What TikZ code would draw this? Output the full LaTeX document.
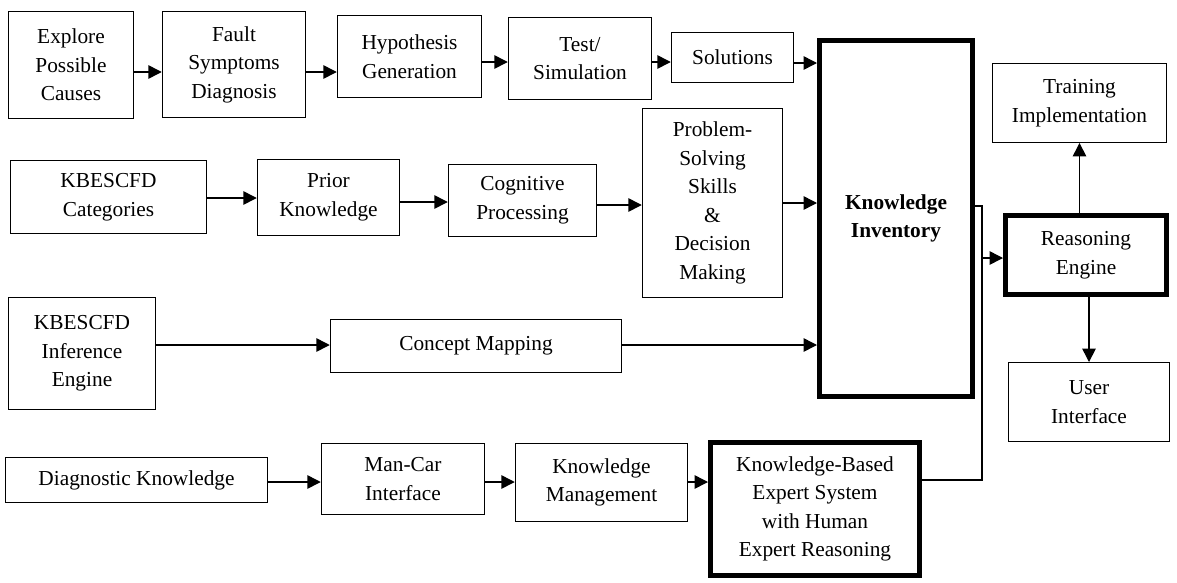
\documentclass[tikz,border=0pt]{standalone}
\usepackage{fontspec}
\setmainfont{Liberation Serif}
\usetikzlibrary{arrows.meta}
\begin{document}
\begin{tikzpicture}[x=0.75pt,y=-0.75pt,
  txt/.style={align=center, inner sep=0pt, font=\fontsize{16}{21.4}\selectfont},
  box/.style={txt, draw, line width=1.1pt},
  lightbox/.style={txt, draw, line width=0.7pt},
  heavybox/.style={txt, draw, line width=3.75pt},
  sz/.style 2 args={minimum width=#1*0.75pt, minimum height=#2*0.75pt},
  arr/.style={line width=1.1pt, -{Triangle[length=10pt,width=10pt]}},
  link/.style={line width=0.8pt}]
\useasboundingbox (0,0) rectangle (1177,582);

% top row
\node[box, sz={125}{107}] (explore) at (71,65) {Explore\\Possible\\Causes};
\node[box, sz={143}{106}] (fault) at (234,64.5) {Fault\\Symptoms\\Diagnosis};
\node[box, sz={144}{82}] (hypo) at (409.5,56.5) {Hypothesis\\Generation};
\node[box, sz={143}{82}] (test) at (580,58.5) {Test/\\Simulation};
\node[box, sz={122}{50}] (sol) at (732.5,57.5) {Solutions};

% central store
\node[heavybox, sz={153}{356}, font=\fontsize{16}{21.4}\selectfont\bfseries] (ki) at (896,218.5) {Knowledge\\Inventory};

% right column
\node[lightbox, sz={174}{79}] (train) at (1079.5,103) {Training\\Implementation};
\node[heavybox, sz={161}{79}] (reason) at (1086,255) {Reasoning\\Engine};
\node[lightbox, sz={161}{79}] (user) at (1089,402) {User\\Interface};

% second row
\node[box, sz={196}{73}] (cat) at (108.5,197) {KBESCFD\\Categories};
\node[box, sz={142}{76}] (prior) at (328.5,197.5) {Prior\\Knowledge};
\node[box, sz={148}{72}] (cog) at (522.5,200.5) {Cognitive\\Processing};
\node[box, sz={140}{189}] (ps) at (712.5,203) {Problem-\\Solving\\Skills\\\&\\Decision\\Making};

% third row
\node[box, sz={147}{112}] (inf) at (82,353.5) {KBESCFD\\Inference\\Engine};
\node[box, sz={291}{53}] (cm) at (476,346) {Concept Mapping};

% bottom row
\node[box, sz={262}{45}] (diag) at (136.5,480) {Diagnostic Knowledge};
\node[box, sz={163}{71}] (mc) at (403,479) {Man-Car\\Interface};
\node[box, sz={172}{78}] (km) at (601.5,482.5) {Knowledge\\Management};
\node[heavybox, sz={209}{133}] (kb) at (815,509) {Knowledge-Based\\Expert System\\with Human\\Expert Reasoning};

% connector levels
\coordinate (yA) at (0,72);
\coordinate (yB) at (0,62);
\coordinate (yC) at (0,63);
\coordinate (yD) at (0,198);
\coordinate (yE) at (0,202);
\coordinate (yF) at (0,205);
\coordinate (yG) at (0,203);
\coordinate (yH) at (0,345);
\coordinate (yJ) at (0,482);
\coordinate (yK) at (0,206);
\coordinate (yL) at (0,480);
\coordinate (bus) at (982,258);

% top row flow
\draw[arr] (explore.east |- yA) -- (fault.west |- yA);
\draw[arr] (fault.east |- yA) -- (hypo.west |- yA);
\draw[arr] (hypo.east |- yB) -- (test.west |- yB);
\draw[arr] (test.east |- yB) -- (sol.west |- yB);
\draw[arr] (sol.east |- yC) -- (ki.west |- yC);

% second row flow
\draw[arr] (cat.east |- yD) -- (prior.west |- yD);
\draw[arr] (prior.east |- yE) -- (cog.west |- yE);
\draw[arr] (cog.east |- yF) -- (ps.west |- yF);
\draw[arr] (ps.east |- yG) -- (ki.west |- yG);

% third row flow
\draw[arr] (inf.east |- yH) -- (cm.west |- yH);
\draw[arr] (cm.east |- yH) -- (ki.west |- yH);

% bottom row flow
\draw[arr] (diag.east |- yJ) -- (mc.west |- yJ);
\draw[arr] (mc.east |- yJ) -- (km.west |- yJ);
\draw[arr] (km.east |- yJ) -- (kb.west |- yJ);

% link between inventory, expert system and reasoning engine
\draw[link] (ki.east |- yK) -| (bus |- yL) -- (kb.east |- yL);
\draw[arr] (bus) -- (reason.west |- bus);

% reasoning engine outputs
\draw[arr] (reason.north -| train) -- (train.south);
\draw[arr] (reason.south -| user) -- (user.north);
\end{tikzpicture}
\end{document}
